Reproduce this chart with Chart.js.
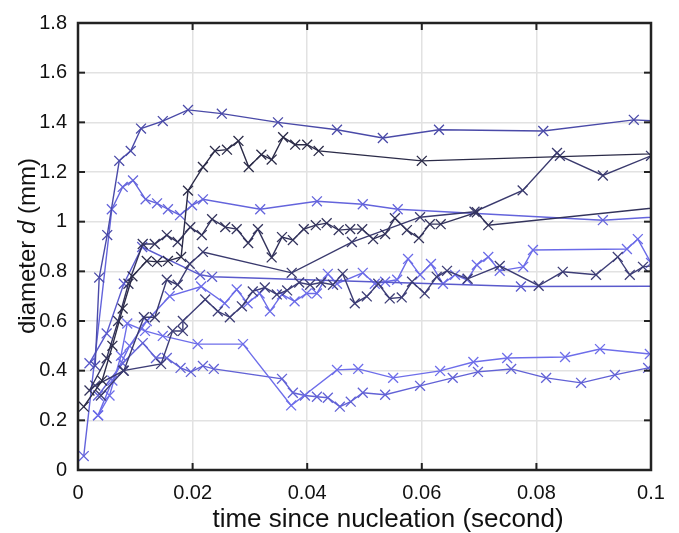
<!DOCTYPE html>
<html><head><meta charset="utf-8">
<script src="https://cdn.jsdelivr.net/npm/chart.js@4.4.1/dist/chart.umd.min.js"></script>
<style>html,body{margin:0;padding:0;background:#fff}#wrap{width:679px;height:533px}</style>
</head><body><div id="wrap"><canvas id="c" width="679" height="533"></canvas></div>
<script>
// x: time since nucleation (s), y: diameter (mm)
const xTicks = [0, 0.02, 0.04, 0.06, 0.08, 0.1];
const yTicks = [0, 0.2, 0.4, 0.6, 0.8, 1, 1.2, 1.4, 1.6, 1.8];
const xTitle = 'time since nucleation (second)';
const yTitleParts = ['diameter ', 'd', ' (mm)'];

const sTop = [[0.003,0.42],[0.0037,0.775],[0.0051,0.946],[0.0072,1.245],[0.0092,1.285],[0.011,1.375],[0.0148,1.405],[0.0192,1.45],[0.0251,1.435],[0.0349,1.40],[0.0452,1.37],[0.0532,1.337],[0.063,1.37],[0.0812,1.365],[0.097,1.41],[0.105,1.40]];
const sD1 = [[0.001,0.255],[0.0042,0.36],[0.006,0.5],[0.0078,0.65],[0.0095,0.78],[0.012,0.842],[0.0138,0.838],[0.0157,0.842],[0.018,0.858],[0.0192,1.125],[0.0218,1.22],[0.0239,1.285],[0.026,1.29],[0.028,1.325],[0.0298,1.22],[0.032,1.27],[0.0338,1.25],[0.0358,1.34],[0.0379,1.31],[0.04,1.31],[0.042,1.285],[0.06,1.245],[0.11,1.28]];
const sD2 = [[0.002,0.32],[0.005,0.45],[0.007,0.6],[0.0088,0.75],[0.0113,0.91],[0.0134,0.91],[0.0155,0.946],[0.0174,0.918],[0.0196,0.978],[0.0216,0.946],[0.0234,1.01],[0.0257,0.978],[0.0277,0.97],[0.0297,0.914],[0.0314,0.97],[0.0338,0.856],[0.0356,0.938],[0.0375,0.926],[0.0394,0.97],[0.0415,0.986],[0.0434,0.994],[0.0455,0.966],[0.0475,0.97],[0.0496,0.97],[0.0515,0.93],[0.0536,0.95],[0.0553,1.014],[0.0574,0.966],[0.0595,0.934],[0.0614,0.99],[0.0633,0.99],[0.0696,1.038],[0.0716,0.986],[0.11,1.078]];
const sD3 = [[0.003,0.34],[0.008,0.40],[0.0115,0.615],[0.0134,0.615],[0.0155,0.766],[0.0174,0.746],[0.0195,0.83],[0.0218,0.878],[0.0373,0.794],[0.0478,0.918],[0.0597,1.018],[0.0692,1.04],[0.0776,1.126],[0.0836,1.277],[0.0841,1.265],[0.0916,1.186],[0.1,1.265]];
const sD4 = [[0.004,0.30],[0.0079,0.40],[0.0145,0.427],[0.0165,0.56],[0.0183,0.56],[0.0183,0.60],[0.0222,0.687],[0.0244,0.639],[0.0265,0.615],[0.0286,0.659],[0.0305,0.719],[0.0326,0.735],[0.0347,0.707],[0.0365,0.723],[0.0386,0.755],[0.0405,0.746],[0.0424,0.755],[0.0445,0.746],[0.0462,0.79],[0.0483,0.671],[0.0504,0.699],[0.0524,0.75],[0.0544,0.691],[0.0565,0.695],[0.0583,0.758],[0.0605,0.711],[0.0626,0.778],[0.0644,0.802],[0.068,0.77],[0.0736,0.822],[0.0804,0.742],[0.0846,0.798],[0.0904,0.786],[0.0942,0.858],[0.0963,0.786],[0.0986,0.818],[0.103,0.83]];
const sL1 = [[0.001,0.056],[0.0059,1.05],[0.0078,1.14],[0.0096,1.166],[0.0118,1.09],[0.0138,1.074],[0.0157,1.05],[0.0178,1.026],[0.0199,1.066],[0.0218,1.09],[0.0318,1.05],[0.0417,1.082],[0.0497,1.07],[0.0558,1.05],[0.0916,1.006],[0.105,1.025]];
const sL2 = [[0.0035,0.22],[0.006,0.36],[0.009,0.5],[0.012,0.6],[0.016,0.7],[0.0215,0.739],[0.0256,0.671],[0.0277,0.727],[0.0296,0.671],[0.0317,0.711],[0.0335,0.639],[0.0356,0.707],[0.0378,0.679],[0.0399,0.711],[0.0417,0.711],[0.0436,0.79],[0.0452,0.75],[0.0497,0.794],[0.0518,0.75],[0.0536,0.758],[0.0557,0.766],[0.0576,0.85],[0.0597,0.786],[0.0616,0.83],[0.0637,0.75],[0.0658,0.786],[0.0679,0.766],[0.0696,0.826],[0.0716,0.858],[0.0736,0.802],[0.0777,0.818],[0.0794,0.886],[0.0958,0.89],[0.0977,0.93],[0.1,0.834]];
const sM = [[0.002,0.43],[0.005,0.55],[0.008,0.75],[0.0112,0.898],[0.0213,0.786],[0.0234,0.778],[0.0773,0.739],[0.11,0.74]];
const sLow1 = [[0.0035,0.22],[0.0055,0.30],[0.0075,0.46],[0.0086,0.59],[0.0117,0.56],[0.0148,0.54],[0.0209,0.507],[0.0288,0.507],[0.0372,0.26],[0.0452,0.403],[0.0489,0.407],[0.055,0.371],[0.0632,0.399],[0.069,0.435],[0.0749,0.451],[0.085,0.455],[0.0911,0.487],[0.0998,0.467],[0.105,0.47]];
const sLow2 = [[0.0035,0.30],[0.0078,0.43],[0.0113,0.511],[0.0136,0.451],[0.0155,0.451],[0.0179,0.411],[0.0197,0.395],[0.0218,0.419],[0.0237,0.407],[0.0356,0.367],[0.0375,0.311],[0.0396,0.30],[0.0417,0.295],[0.0436,0.291],[0.0457,0.255],[0.0476,0.275],[0.0497,0.311],[0.0536,0.303],[0.0597,0.339],[0.0654,0.371],[0.0698,0.395],[0.0756,0.407],[0.0817,0.371],[0.0878,0.351],[0.0937,0.383],[0.0995,0.411],[0.105,0.43]];

const seriesList = [
  [sD1, '#2b2b48'], [sD2, '#33335c'], [sD3, '#3a3a6e'], [sD4, '#3d3d76'],
  [sTop, '#4a4aa8'], [sM, '#5a5acc'], [sL1, '#6464dc'], [sL2, '#6b6be8'],
  [sLow1, '#6e6eea'], [sLow2, '#6262d6']
];

const FONT = '"Liberation Sans", Arial, Helvetica, sans-serif';

const frame = {
  id: 'frame',
  afterDraw(chart) {
    const {ctx, chartArea: a, scales: {x, y}} = chart;
    ctx.save();
    ctx.strokeStyle = '#222';
    ctx.lineWidth = 2.5;
    ctx.strokeRect(a.left, a.top, a.right - a.left, a.bottom - a.top);
    ctx.lineWidth = 2;
    const L = 7;
    xTicks.forEach(v => {
      const px = x.getPixelForValue(v);
      ctx.beginPath(); ctx.moveTo(px, a.bottom); ctx.lineTo(px, a.bottom - L); ctx.stroke();
      ctx.beginPath(); ctx.moveTo(px, a.top); ctx.lineTo(px, a.top + L); ctx.stroke();
    });
    yTicks.forEach(v => {
      const py = y.getPixelForValue(v);
      ctx.beginPath(); ctx.moveTo(a.left, py); ctx.lineTo(a.left + L, py); ctx.stroke();
      ctx.beginPath(); ctx.moveTo(a.right, py); ctx.lineTo(a.right - L, py); ctx.stroke();
    });
    ctx.fillStyle = '#111';
    ctx.textBaseline = 'middle';
    // x title
    ctx.font = '26px ' + FONT;
    ctx.textAlign = 'center';
    ctx.fillText(xTitle, 388, 520);
    // y title with italic d
    ctx.translate(28, 246);
    ctx.rotate(-Math.PI / 2);
    const fonts = ['24px ' + FONT, 'italic 24px ' + FONT, '24px ' + FONT];
    let total = 0;
    yTitleParts.forEach((t, i) => { ctx.font = fonts[i]; total += ctx.measureText(t).width; });
    let cx = -total / 2;
    ctx.textAlign = 'left';
    yTitleParts.forEach((t, i) => { ctx.font = fonts[i]; ctx.fillText(t, cx, 0); cx += ctx.measureText(t).width; });
    ctx.restore();
  }
};

new Chart(document.getElementById('c'), {
  type: 'line',
  data: {
    datasets: seriesList.map(([pts, col]) => ({
      data: pts.map(p => ({x: p[0], y: p[1]})),
      borderColor: col,
      backgroundColor: col,
      borderWidth: 1.4,
      pointStyle: 'crossRot',
      pointRadius: 7,
      pointBorderWidth: 1.3,
      pointHoverRadius: 7,
      tension: 0,
      fill: false
    }))
  },
  options: {
    responsive: false,
    animation: false,
    events: [],
    layout: {padding: {left: 0, right: 28, top: 19, bottom: 0}},
    plugins: {legend: {display: false}, tooltip: {enabled: false}},
    scales: {
      x: {
        type: 'linear', min: 0, max: 0.1,
        afterBuildTicks: s => { s.ticks = xTicks.map(v => ({value: v})); },
        afterFit: s => { s.height = 63; },
        ticks: {color: '#111', font: {size: 20, family: FONT}, padding: 11,
          callback: v => String(+v.toFixed(2))},
        grid: {color: '#e2e2e2', lineWidth: 1.5, drawTicks: false},
        border: {display: false}
      },
      y: {
        type: 'linear', min: 0, max: 1.8,
        afterBuildTicks: s => { s.ticks = yTicks.map(v => ({value: v})); },
        afterFit: s => { s.width = 78; },
        ticks: {color: '#111', font: {size: 20, family: FONT}, padding: 11,
          callback: v => String(+v.toFixed(1))},
        grid: {color: '#e2e2e2', lineWidth: 1.5, drawTicks: false},
        border: {display: false}
      }
    }
  },
  plugins: [frame]
});
</script></body></html>
